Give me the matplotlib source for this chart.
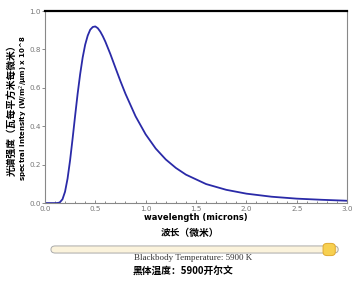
import matplotlib

matplotlib.use("Agg")
import matplotlib.pyplot as plt
from matplotlib.patches import FancyBboxPatch

plt.rcParams["font.family"] = ["DejaVu Sans", "Noto Sans CJK SC"]

# spectral intensity (x 10^8 W/m^2/um)
wavelength = [0.0, 0.05, 0.1, 0.12, 0.14, 0.15, 0.175, 0.2, 0.225, 0.25, 0.275, 0.3, 0.325,
              0.35, 0.375, 0.4, 0.425, 0.45, 0.475, 0.5, 0.525, 0.55, 0.575, 0.6, 0.65,
              0.7, 0.75, 0.8, 0.9, 1.0, 1.1, 1.2, 1.3, 1.4, 1.6, 1.8, 2.0, 2.25, 2.5,
              2.75, 3.0]
intensity = [0.0, 0.0, 0.0, 0.0002, 0.0019, 0.0045, 0.020, 0.059, 0.127, 0.222, 0.335, 0.454, 0.569,
             0.671, 0.758, 0.825, 0.872, 0.903, 0.917, 0.920, 0.911, 0.893, 0.869, 0.841, 0.776,
             0.705, 0.635, 0.569, 0.452, 0.358, 0.284, 0.227, 0.183, 0.148, 0.099, 0.069, 0.049,
             0.033, 0.023, 0.017, 0.012]
temperature = 5900
t_max = 6000

fig = plt.figure(figsize=(3.59, 2.84), dpi=100)
ax = fig.add_axes([0.125, 0.285, 0.842, 0.676])
ax.plot(wavelength, intensity, color="#2a2aa8", lw=1.3)
ax.set_xlim(0, 3.0)
ax.set_ylim(0, 1.0)
ax.set_xticks([0.0, 0.5, 1.0, 1.5, 2.0, 2.5, 3.0])
ax.set_xticks([i / 10 for i in range(31)], minor=True)
ax.set_yticks([0.0, 0.2, 0.4, 0.6, 0.8, 1.0])
ax.tick_params(which="both", direction="in", labelsize=5.2, labelcolor="#777777",
               color="#777777", length=2, width=0.6, pad=2)
ax.tick_params(axis="y", direction="out", pad=1)
ax.tick_params(which="minor", length=1.5)
for side in ("left", "right", "bottom"):
    ax.spines[side].set_color("#888888")
    ax.spines[side].set_linewidth(0.8)
ax.spines["top"].set_linewidth(1.6)

ax.set_xlabel("wavelength (microns)", fontsize=6, fontweight="bold", labelpad=1)
fig.text(0.066, 0.62, "spectral Intensity (W/m$^2$/µm) x 10^8", rotation=90, fontsize=5,
         fontweight="bold", ha="center", va="center")
fig.text(0.032, 0.62, "光谱强度（瓦每平方米每微米）", rotation=90, fontsize=7, fontweight="bold",
         ha="center", va="center", family=["Noto Sans CJK SC"])
fig.text(0.53, 0.18, "波长（微米）", fontsize=7, fontweight="bold", ha="center", va="center",
         family=["Noto Sans CJK SC"])

# temperature slider
track = FancyBboxPatch((0.142, 0.109), 0.80, 0.025, boxstyle="round,pad=0,rounding_size=0.012",
                       transform=fig.transFigure, facecolor="#fbf3dc", edgecolor="#aaaaaa", lw=0.7)
fig.add_artist(track)
kx = 0.142 + 0.80 * temperature / t_max * 0.985
knob = FancyBboxPatch((kx - 0.017, 0.100), 0.034, 0.043, boxstyle="round,pad=0,rounding_size=0.012",
                      transform=fig.transFigure, facecolor="#f7d050", edgecolor="#e0aa30", lw=0.7)
fig.add_artist(knob)
fig.text(0.537, 0.09, f"Blackbody Temperature: {temperature} K", fontsize=6.5, ha="center", va="center",
         family=["Liberation Serif"], color="#333333")
fig.text(0.51, 0.046, f"黑体温度：{temperature}开尔文", fontsize=7, fontweight="bold", ha="center",
         va="center", family=["Noto Sans CJK SC"])

fig.savefig("out.png", dpi=100)
